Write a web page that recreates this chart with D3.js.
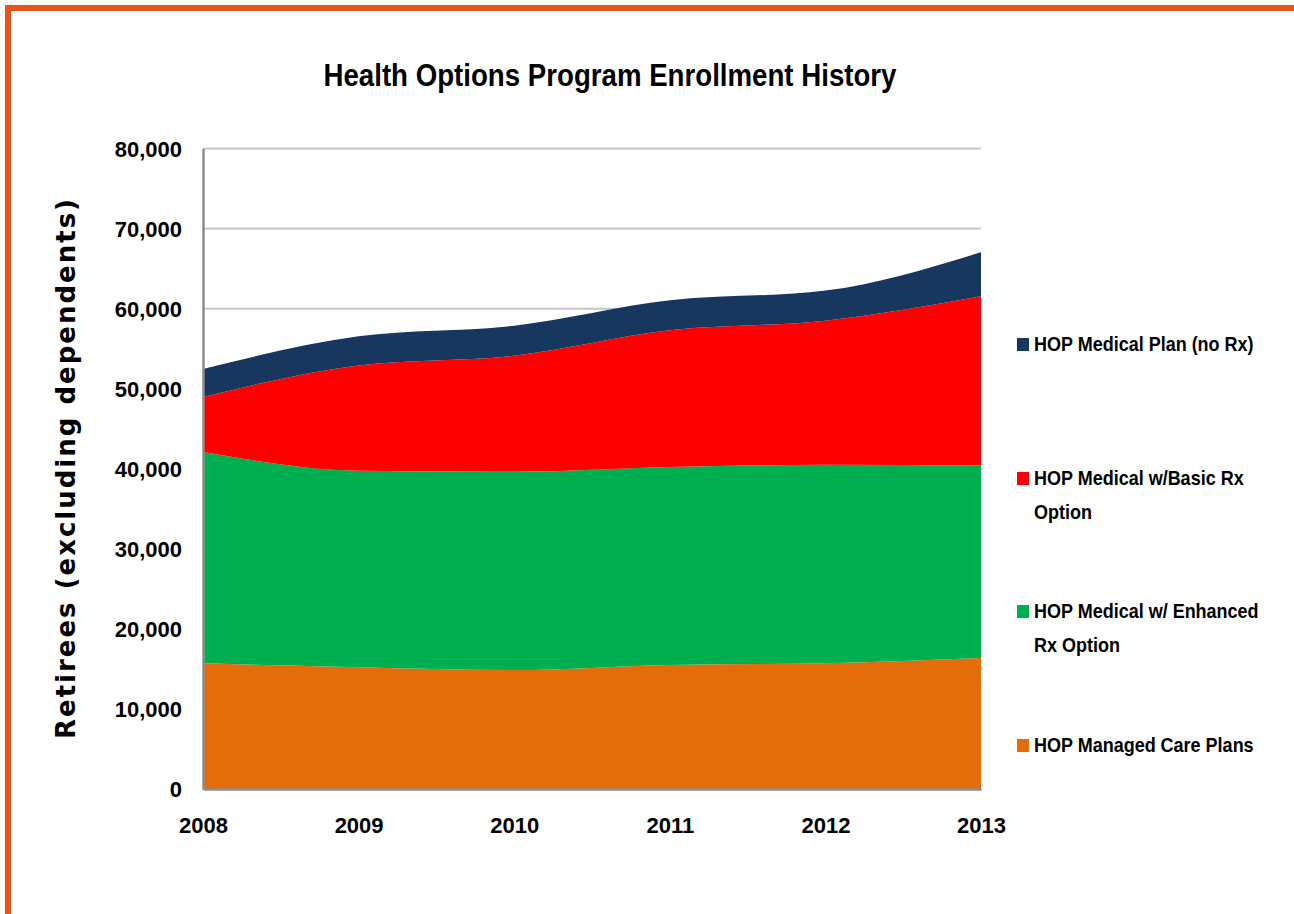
<!DOCTYPE html>
<html>
<head>
<meta charset="utf-8">
<script src="https://cdn.jsdelivr.net/npm/d3@7"></script>
<style>
    body { margin: 0; background: #fff; }
    svg text { font-family: "Liberation Sans", Arial, sans-serif; font-weight: bold; fill: #000; }
</style>
</head>
<body>
<div id="graph"></div>
<script>
/*
    Data
*/
var years = ["2008", "2009", "2010", "2011", "2012", "2013"]

var managedCare = [15700, 15200, 14850, 15500, 15700, 16350],
    enhancedRx  = [26400, 24550, 24770, 24710, 24800, 24060],
    basicRx     = [6860, 13160, 14500, 17080, 18000, 21130],
    noRx        = [3500, 3630, 3750, 3750, 3750, 5500]

var seriesNames = [
    "HOP Managed Care Plans",
    "HOP Medical w/ Enhanced Rx Option",
    "HOP Medical w/Basic Rx Option",
    "HOP Medical Plan (no Rx)"
]
var seriesColors = ["#E46C0A", "#00B050", "#FF0000", "#17375E"]

// legend text, split in lines as in the picture (top to bottom)
var legendLines = [
    ["HOP Medical Plan (no Rx)"],
    ["HOP Medical w/Basic Rx", "Option"],
    ["HOP Medical w/ Enhanced", "Rx Option"],
    ["HOP Managed Care Plans"]
]
var legendColors = ["#17375E", "#FF0000", "#00B050", "#E46C0A"]

var yTicks = [0, 10000, 20000, 30000, 40000, 50000, 60000, 70000, 80000]

/*
    Set the dimensions
*/
var W = 1294, H = 914
var margin = {top: 148.5, left: 203, right: 313, bottom: 125}
var width = W - margin.left - margin.right,
    height = H - margin.top - margin.bottom

var root = d3.select("#graph").append("svg")
    .attr("width", W)
    .attr("height", H)

// orange frame, runs off the right and bottom edge
root.append("rect")
    .attr("x", 8).attr("y", 8)
    .attr("width", W + 40).attr("height", H + 40)
    .attr("fill", "none")
    .attr("stroke", "#E4541C")
    .attr("stroke-width", 6)

// no narrow font here, so squeeze the title to the picture's width
root.append("text")
    .attr("x", 610).attr("y", 86)
    .attr("text-anchor", "middle")
    .attr("textLength", 573)
    .attr("lengthAdjust", "spacingAndGlyphs")
    .style("font-size", "31px")
    .text("Health Options Program Enrollment History")

var svg = root.append("g")
    .attr("transform", "translate(" + margin.left + "," + margin.top + ")")

/*
    Scales
*/
var x = d3.scalePoint().domain(years).range([0, width])
var y = d3.scaleLinear().domain([0, 80000]).range([height, 0])

// gridlines
svg.append("g")
    .selectAll("line")
    .data(yTicks.slice(1))
    .enter().append("line")
    .attr("x1", 0).attr("x2", width)
    .attr("y1", function(d) { return y(d) })
    .attr("y2", function(d) { return y(d) })
    .attr("stroke", "#C6C6C6")
    .attr("stroke-width", 2)

/*
    Stack the series
*/
var table = years.map(function(yr, i) {
    return {
        year: yr,
        s0: managedCare[i],
        s1: enhancedRx[i],
        s2: basicRx[i],
        s3: noRx[i]
    }
})

var stack = d3.stack().keys(["s0", "s1", "s2", "s3"])
var layers = stack(table)

var area = d3.area()
    .curve(d3.curveMonotoneX)
    .x(function(d) { return x(d.data.year) })
    .y0(function(d) { return y(d[0]) })
    .y1(function(d) { return y(d[1]) })

svg.selectAll(".layer")
    .data(layers)
    .enter().append("path")
    .attr("class", "layer")
    .attr("d", area)
    .attr("fill", function(d, i) { return seriesColors[i] })

/*
    Axes
*/
var yAxis = svg.append("g")
    .call(d3.axisLeft(y).tickValues(yTicks).tickSize(0).tickPadding(21)
        .tickFormat(d3.format(",")))
yAxis.select(".domain").attr("stroke", "#8C8C8C").attr("stroke-width", 2.5)
yAxis.selectAll("text").style("font-size", "22px").attr("dy", "0.35em")

var xAxis = svg.append("g")
    .attr("transform", "translate(0," + height + ")")
    .call(d3.axisBottom(x).tickSize(0).tickPadding(28))
xAxis.select(".domain").attr("stroke", "#8C8C8C").attr("stroke-width", 2.5)
xAxis.selectAll("text").style("font-size", "22px")

// axis title
root.append("text")
    .attr("transform", "translate(75,468) rotate(-90)")
    .attr("text-anchor", "middle")
    .style("font-family", "'DejaVu Sans', sans-serif")
    .style("font-size", "26px")
    .style("letter-spacing", "2px")
    .text("Retirees (excluding dependents)")

/*
    Legend
*/
var legendY = [351, 485, 618, 752]
var legend = root.append("g")
    .selectAll("g")
    .data(legendLines)
    .enter().append("g")
    .attr("transform", function(d, i) { return "translate(1017," + legendY[i] + ")" })

legend.append("rect")
    .attr("x", 0).attr("y", -13)
    .attr("width", 12).attr("height", 13)
    .attr("fill", function(d, i) { return legendColors[i] })

legend.append("text")
    .attr("transform", "translate(17,0) scale(0.9,1)")
    .style("font-size", "20px")
    .selectAll("tspan")
    .data(function(d) { return d })
    .enter().append("tspan")
    .attr("x", 0)
    .attr("dy", function(d, i) { return i == 0 ? 0 : 34 })
    .text(function(d) { return d })
</script>
</body>
</html>
